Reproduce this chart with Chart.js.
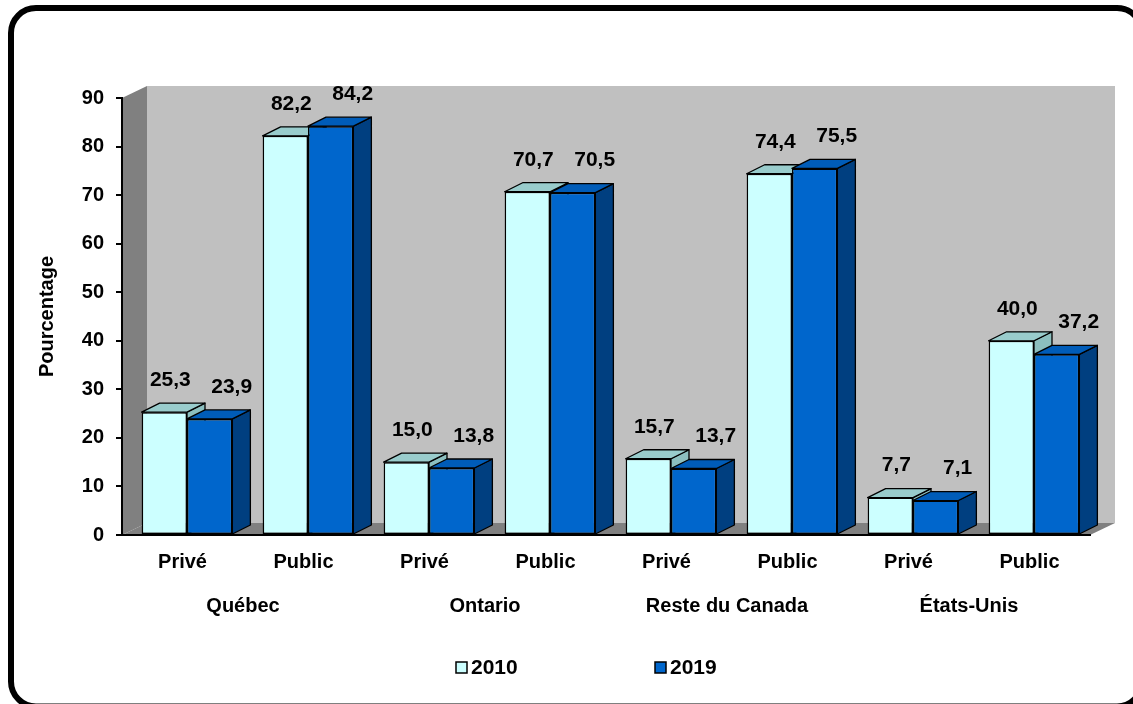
<!DOCTYPE html>
<html>
<head>
<meta charset="utf-8">
<script src="https://cdn.jsdelivr.net/npm/chart.js@4.4.0/dist/chart.umd.min.js"></script>
<style>
  html, body { margin: 0; padding: 0; background: #fff; }
  #wrap { width: 1133px; height: 704px; position: relative; }
</style>
</head>
<body>
<div id="wrap"><canvas id="chart"></canvas></div>
<script>
// ---------- data ----------
const categories = ["Privé", "Public", "Privé", "Public", "Privé", "Public", "Privé", "Public"];
const regions = ["Québec", "Ontario", "Reste du Canada", "États-Unis"];
const years = ["2010", "2019"];
const values2010 = [25.3, 82.2, 15.0, 70.7, 15.7, 74.4, 7.7, 40.0];
const values2019 = [23.9, 84.2, 13.8, 70.5, 13.7, 75.5, 7.1, 37.2];
const yMin = 0, yMax = 90, yStep = 10;

// ---------- look ----------
const FONT = "'Liberation Sans', Arial, sans-serif";
const faces = [
  { front: "#CCFFFF", top: "#99CCCC", side: "#8CBFBF" },
  { front: "#0066CC", top: "#005CB8", side: "#003F80" },
];
const WALL_DX = 25, WALL_DY = 12;   // depth of walls / floor
const BAR_DX = 18, BAR_DY = 9;      // depth of each column
const BAR_SHIFT = 4.5;              // columns sit a bit right of the category centre
const LABEL_DX = [6, 22];           // value label offset per series

function poly(ctx, pts, fill, stroke, lw) {
  ctx.beginPath();
  ctx.moveTo(pts[0][0], pts[0][1]);
  for (let i = 1; i < pts.length; i++) ctx.lineTo(pts[i][0], pts[i][1]);
  ctx.closePath();
  ctx.fillStyle = fill;
  ctx.fill();
  if (stroke) {
    ctx.strokeStyle = stroke;
    ctx.lineWidth = lw || 1;
    ctx.stroke();
  }
}

const fmt = (v) => v.toFixed(1).replace(".", ",");

// walls, floor, rounded frame, legend, column tops/sides and value labels
const scene3d = {
  id: "scene3d",
  beforeDraw(chart) {
    const { ctx, chartArea: a } = chart;
    ctx.save();
    ctx.fillStyle = "#fff";
    ctx.fillRect(0, 0, chart.width, chart.height);

    // outer rounded frame
    ctx.beginPath();
    ctx.roundRect(11, 8, 1131, 698.5, 25);
    ctx.lineWidth = 6;
    ctx.strokeStyle = "#000";
    ctx.stroke();

    // back wall
    poly(ctx, [[a.left + WALL_DX, a.top - WALL_DY], [a.right + WALL_DX, a.top - WALL_DY],
               [a.right + WALL_DX, a.bottom - WALL_DY], [a.left + WALL_DX, a.bottom - WALL_DY]], "#C0C0C0");
    // left wall
    poly(ctx, [[a.left, a.top], [a.left + WALL_DX, a.top - WALL_DY],
               [a.left + WALL_DX, a.bottom - WALL_DY], [a.left, a.bottom]], "#808080");
    // floor
    poly(ctx, [[a.left, a.bottom], [a.right, a.bottom],
               [a.right + WALL_DX, a.bottom - WALL_DY], [a.left + WALL_DX, a.bottom - WALL_DY]], "#808080");

    // legend
    ctx.font = "bold 21px " + FONT;
    ctx.textBaseline = "middle";
    ctx.textAlign = "left";
    const legendX = [456, 655];
    chart.data.datasets.forEach((ds, i) => {
      ctx.fillStyle = faces[i].front;
      ctx.fillRect(legendX[i], 662, 11, 11);
      ctx.strokeStyle = "#000";
      ctx.lineWidth = 1.5;
      ctx.strokeRect(legendX[i], 662, 11, 11);
      ctx.fillStyle = "#000";
      ctx.fillText(ds.label, legendX[i] + 15, 668);
    });
    ctx.restore();
  },
  beforeDatasetsDraw(chart) {
    const { ctx } = chart;
    ctx.save();
    ctx.translate(BAR_SHIFT, 0);
    // sides and tops go first so the fronts (drawn by Chart.js) cover them
    chart.data.datasets.forEach((ds, di) => {
      const meta = chart.getDatasetMeta(di);
      meta.data.forEach((bar) => {
        const l = bar.x - bar.width / 2, r = bar.x + bar.width / 2;
        const t = bar.y, b = bar.base;
        ctx.lineJoin = "round";
        poly(ctx, [[r, t], [r + BAR_DX, t - BAR_DY], [r + BAR_DX, b - BAR_DY], [r, b]], faces[di].side, "#000", 1.3);
        poly(ctx, [[l, t], [r, t], [r + BAR_DX, t - BAR_DY], [l + BAR_DX, t - BAR_DY]], faces[di].top, "#000", 1.3);
      });
    });
  },
  afterDatasetsDraw(chart) {
    const { ctx } = chart;
    ctx.restore();
    ctx.save();
    ctx.font = "bold 21px " + FONT;
    ctx.fillStyle = "#000";
    ctx.textAlign = "center";
    ctx.textBaseline = "middle";
    chart.data.datasets.forEach((ds, di) => {
      const meta = chart.getDatasetMeta(di);
      meta.data.forEach((bar, i) => {
        ctx.fillText(fmt(ds.data[i]), bar.x + BAR_SHIFT + LABEL_DX[di], bar.y - BAR_DY - 23);
      });
    });
    ctx.restore();
  },
};

new Chart(document.getElementById("chart"), {
  type: "bar",
  data: {
    labels: categories,
    datasets: [
      { label: years[0], data: values2010, backgroundColor: faces[0].front,
        borderColor: "#000", borderWidth: 1.5, borderSkipped: false, clip: false },
      { label: years[1], data: values2019, backgroundColor: faces[1].front,
        borderColor: "#000", borderWidth: 1.5, borderSkipped: false, clip: false },
    ],
  },
  options: {
    responsive: true,
    maintainAspectRatio: false,
    devicePixelRatio: 1,
    animation: false,
    layout: { padding: { left: 35, right: 43, top: 98, bottom: 84 } },
    datasets: { bar: { categoryPercentage: 0.75, barPercentage: 1 } },
    plugins: { legend: { display: false }, tooltip: { enabled: false } },
    scales: {
      x: {
        position: "bottom",
        grid: { drawOnChartArea: false, drawTicks: false },
        border: { display: true, color: "#000", width: 2 },
        ticks: { color: "#000", padding: 15, font: { family: FONT, size: 20, weight: "bold" } },
        afterFit: (s) => { s.height = 45; },
      },
      region: {
        type: "category",
        position: "bottom",
        labels: regions,
        offset: true,
        grid: { display: false, drawTicks: false },
        border: { display: false },
        ticks: { color: "#000", padding: 14, font: { family: FONT, size: 20, weight: "bold" } },
        afterFit: (s) => { s.height = 40; },
      },
      y: {
        min: yMin,
        max: yMax,
        ticks: { stepSize: yStep, color: "#000", padding: 12, font: { family: FONT, size: 20, weight: "bold" } },
        grid: { drawOnChartArea: false, drawTicks: true, tickLength: 6, color: "#000", lineWidth: 2 },
        border: { display: true, color: "#000", width: 2 },
        title: { display: true, text: "Pourcentage", color: "#000", padding: 0,
                 font: { family: FONT, size: 20, weight: "bold" } },
        afterFit: (s) => { s.width = 87; },
      },
    },
  },
  plugins: [scene3d],
});
</script>
</body>
</html>
